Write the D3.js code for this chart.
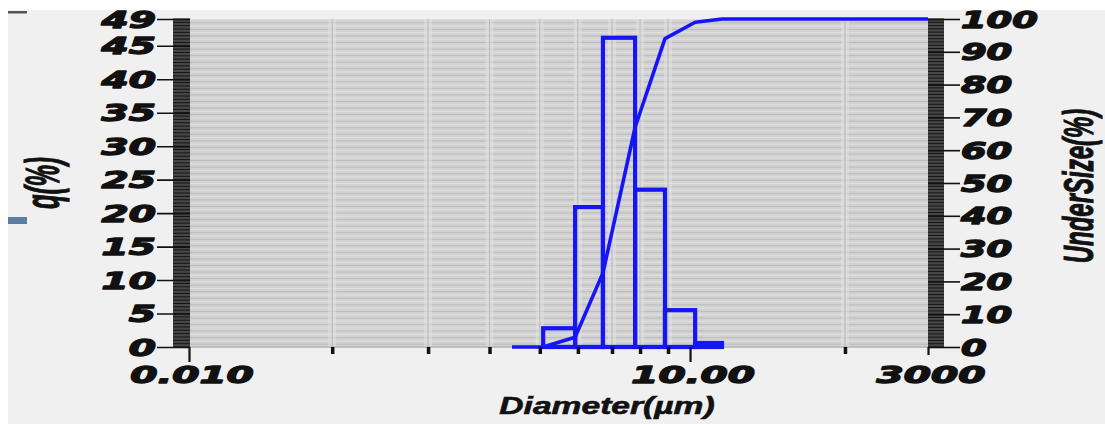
<!DOCTYPE html>
<html>
<head>
<meta charset="utf-8">
<script src="https://cdn.jsdelivr.net/npm/d3@7"></script>
<style>
  html, body { margin: 0; padding: 0; background: #ffffff; }
  svg { display: block; }
</style>
</head>
<body>
<svg id="chart" width="1105" height="424"></svg>
<script>
// ---------------- data ----------------
const qTicks = [0, 5, 10, 15, 20, 25, 30, 35, 40, 45, 49];
const underTicks = [0, 10, 20, 30, 40, 50, 60, 70, 80, 90, 100];
const xMajorTicks = [0.01, 10, 3000];
const xMajorLabels = ["0.010", "10.00", "3000"];
const xMinorTicks = [0.072, 0.27, 0.63, 1.26, 2.13, 3.41, 5.02, 7.38, 410];
const binEdges = [1.32, 2.05, 3.01, 4.69, 7.08, 11.3, 21.5];
const qValues = [2.8, 20.9, 46.2, 23.5, 5.5, 0.6];
const cumSizes = [0.859, 1.32, 2.05, 3.01, 4.69, 7.08, 11.3, 21.5, 3000];
const cumValues = [0, 0, 3, 22.6, 67, 94, 99, 100, 100];
const xTitle = "Diameter(µm)";
const yLeftTitle = "q(%)";
const yRightTitle = "UnderSize(%)";

// ---------------- layout ----------------
const W = 1105, H = 424;
const L = 189, R = 928, T = 19, B = 347;
const tenFrac = 0.678;
const blue = "#1515f5";

const svg = d3.select("#chart");

// page background
svg.append("rect").attr("width", W).attr("height", H).attr("fill", "#ffffff");
svg.append("rect").attr("x", 8).attr("y", 10).attr("width", W - 8).attr("height", H - 10).attr("fill", "#f0f0f0");
svg.append("rect").attr("x", 8).attr("y", 11).attr("width", 19).attr("height", 2.5).attr("fill", "#555");
svg.append("rect").attr("x", 8).attr("y", 217).attr("width", 19).attr("height", 7).attr("fill", "#5b7fa3");

// scales
const x = d3.scaleLog()
  .domain([xMajorTicks[0], xMajorTicks[1], xMajorTicks[2]])
  .range([L, L + tenFrac * (R - L), R]);
const yQ = d3.scaleLinear().domain([0, 49]).range([B, T]);
const yU = d3.scaleLinear().domain([0, 100]).range([B, T]);

// plot background
svg.append("rect").attr("x", L).attr("y", T).attr("width", R - L).attr("height", B - T).attr("fill", "#d2d2d2");

// dense horizontal grid
const hg = svg.append("g");
hg.selectAll("line.h").data(d3.range(0, 100.01, 1)).join("line")
  .attr("x1", L).attr("x2", R)
  .attr("y1", d => yU(d) + 0.5).attr("y2", d => yU(d) + 0.5)
  .attr("stroke", (d, i) => i % 2 ? "#bcbcbc" : "#e0e0e0").attr("stroke-width", 1);

// vertical grid at minor ticks
const vg = svg.append("g");
vg.selectAll("rect").data(xMinorTicks).join("rect")
  .attr("x", d => x(d) - 4).attr("y", T).attr("width", 8).attr("height", B - T)
  .attr("fill", "#e2e2e2").attr("opacity", 0.55);
vg.selectAll("line").data(xMinorTicks).join("line")
  .attr("x1", d => x(d)).attr("x2", d => x(d)).attr("y1", T).attr("y2", B)
  .attr("stroke", "#b8b8b8").attr("stroke-width", 1);

// baseline
svg.append("line").attr("x1", L).attr("x2", R).attr("y1", B).attr("y2", B)
  .attr("stroke", "#b4b4c4").attr("stroke-width", 1.5);

// histogram bars
const bars = qValues.map((v, i) => ({ x0: binEdges[i], x1: binEdges[i + 1], v }));
svg.append("g").selectAll("rect").data(bars).join("rect")
  .attr("x", d => x(d.x0)).attr("width", d => x(d.x1) - x(d.x0))
  .attr("y", d => yQ(d.v)).attr("height", d => B - yQ(d.v))
  .attr("fill", "none").attr("stroke", blue).attr("stroke-width", 4.2);

// cumulative line
const cum = cumSizes.map((s, i) => [s, cumValues[i]]);
svg.append("path").datum(cum)
  .attr("d", d3.line().x(d => x(d[0])).y(d => yU(d[1])))
  .attr("fill", "none").attr("stroke", blue).attr("stroke-width", 3.6)
  .attr("stroke-linejoin", "round");

// dense axis bands
function band(x0, w, scale, maxV, step) {
  const g = svg.append("g");
  g.append("rect").attr("x", x0).attr("y", T).attr("width", w).attr("height", B - T).attr("fill", "#474747");
  g.selectAll("line").data(d3.range(0, maxV + 0.001, step)).join("line")
    .attr("x1", x0).attr("x2", x0 + w)
    .attr("y1", d => scale(d)).attr("y2", d => scale(d))
    .attr("stroke", "#151515").attr("stroke-width", 1);
}
band(173, 17, yQ, 49, 0.5);
band(928, 16, yU, 100, 1);

// left axis (major ticks)
const axL = d3.axisLeft(yQ).tickValues(qTicks).tickSize(33).tickFormat("");
svg.append("g").attr("transform", `translate(190,0)`).call(axL)
  .call(g => g.select(".domain").remove())
  .call(g => g.selectAll("line").attr("stroke", "#111").attr("stroke-width", 1.6));
// right axis (major ticks)
const axR = d3.axisRight(yU).tickValues(underTicks).tickSize(32).tickFormat("");
svg.append("g").attr("transform", `translate(928,0)`).call(axR)
  .call(g => g.select(".domain").remove())
  .call(g => g.selectAll("line").attr("stroke", "#111").attr("stroke-width", 1.6));

// bottom axis ticks
const axBminor = d3.axisBottom(x).tickValues(xMinorTicks).tickSize(7).tickFormat("");
svg.append("g").attr("transform", `translate(0,${B})`).call(axBminor)
  .call(g => g.select(".domain").remove())
  .call(g => g.selectAll("line").attr("stroke", "#111").attr("stroke-width", 3.5));
const axBmajor = d3.axisBottom(x).tickValues(xMajorTicks).tickSize(15).tickFormat("");
svg.append("g").attr("transform", `translate(0,${B})`).call(axBmajor)
  .call(g => g.select(".domain").remove())
  .call(g => g.selectAll("line").attr("stroke", "#111").attr("stroke-width", 2.2)
    .attr("y2", (d, i) => i === 2 ? 8 : 15));

// tick labels
const numFont = "'DejaVu Sans', sans-serif";
function label(txt, tx, ty, anchor, sx) {
  svg.append("g").attr("transform", `translate(${tx},${ty}) scale(${sx},1)`)
    .append("text").text(txt)
    .attr("text-anchor", anchor)
    .attr("font-family", numFont).attr("font-weight", "bold").attr("font-style", "italic")
    .attr("font-size", 23).attr("fill", "#111").attr("stroke", "#111").attr("stroke-width", 1.3)
    .attr("stroke-linejoin", "round");
}
qTicks.forEach(v => label(String(v), 156, yQ(v) + 8.5, "end", 1.7));
underTicks.forEach(v => label(String(v), 961, yU(v) + 8.5, "start", 1.6));
xMajorTicks.forEach((v, i) => label(xMajorLabels[i], x(v) + 3, 383, "middle", 1.7));

// axis titles
const titleFont = "'Liberation Sans', Arial, sans-serif";
function title(txt, tx, ty, sx, rot) {
  svg.append("g").attr("transform", `translate(${tx},${ty}) scale(${sx},1) rotate(${rot})`)
    .append("text").text(txt)
    .attr("text-anchor", "middle").attr("dy", "0.35em")
    .attr("font-family", titleFont).attr("font-weight", "bold").attr("font-style", "italic")
    .attr("font-size", 24).attr("fill", "#111").attr("stroke", "#111").attr("stroke-width", 0.6);
}
title(xTitle, 607, 406, 1.4, 0);
title(yLeftTitle, 42, 183, 2.0, -90);
title(yRightTitle, 1078, 186, 1.75, -90);
</script>
</body>
</html>
